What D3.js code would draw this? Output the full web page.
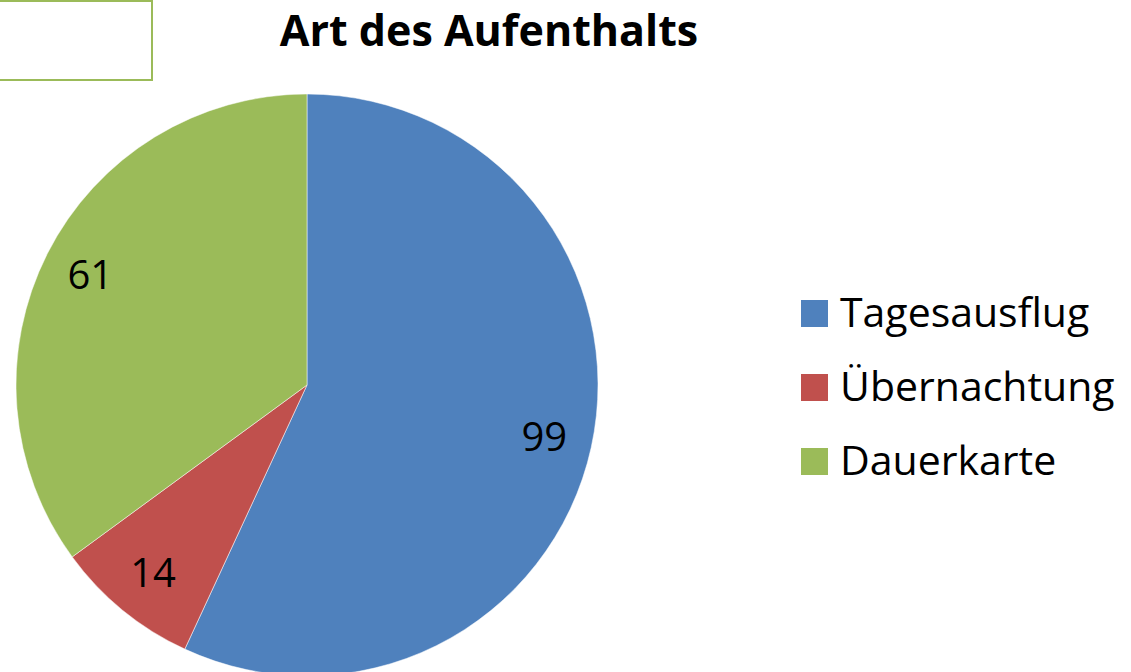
<!DOCTYPE html>
<html lang="de">
<head>
<meta charset="utf-8">
<script src="https://d3js.org/d3.v7.min.js"></script>
<style>
body { margin: 0; background: #fff; }
svg text { font-family: "Open Sans", "Noto Sans", sans-serif; }
</style>
</head>
<body>
<script>
// Data
var categories = ["Tagesausflug", "Übernachtung", "Dauerkarte"];
var values = [99, 14, 61];
var colors = ["#4f81bd", "#c0504d", "#9bbb59"];

var width = 1131, height = 672;
var cx = 307, cy = 385, radius = 291;

var svg = d3.select("body").append("svg")
    .attr("width", width)
    .attr("height", height);

// leftover empty box in the corner
svg.append("rect")
   .attr("x", -5).attr("y", 1)
   .attr("width", 157).attr("height", 79)
   .style("fill", "#fff")
   .style("stroke", "#9bbb59")
   .style("stroke-width", 2);

// Title
svg.append("text")
   .attr("x", 489).attr("y", 46)
   .attr("text-anchor", "middle")
   .style("font-size", "43px")
   .style("font-weight", "bold")
   .text("Art des Aufenthalts");

var pie = d3.pie().sort(null).value(function(d) { return d; });
var arcs = pie(values);

var arc = d3.arc().innerRadius(0).outerRadius(radius);
var labelArc = d3.arc().innerRadius(radius * 0.835).outerRadius(radius * 0.835);

var g = svg.append("g").attr("transform", "translate(" + cx + "," + cy + ")");

g.selectAll("path")
 .data(arcs)
 .enter()
 .append("path")
 .attr("d", arc)
 .style("fill", function(d, i) { return colors[i]; })
 .style("stroke", "#fff")
 .style("stroke-width", 0.5);

g.selectAll("text.lbl")
 .data(arcs)
 .enter()
 .append("text")
 .attr("class", "lbl")
 .attr("transform", function(d) { return "translate(" + labelArc.centroid(d) + ")"; })
 .attr("text-anchor", "middle")
 .attr("dy", "0.35em")
 .style("font-size", "40px")
 .text(function(d) { return d.data; });

// Legend
var legend = svg.selectAll("g.legend")
    .data(categories)
    .enter()
    .append("g")
    .attr("class", "legend")
    .attr("transform", function(d, i) { return "translate(801," + (313 + i * 74) + ")"; });

legend.append("rect")
      .attr("x", 0).attr("y", -13)
      .attr("width", 27).attr("height", 27)
      .style("fill", function(d, i) { return colors[i]; });

legend.append("text")
      .attr("x", 39)
      .attr("dy", "0.35em")
      .style("font-size", "41px")
      .text(function(d) { return d; });
</script>
</body>
</html>
